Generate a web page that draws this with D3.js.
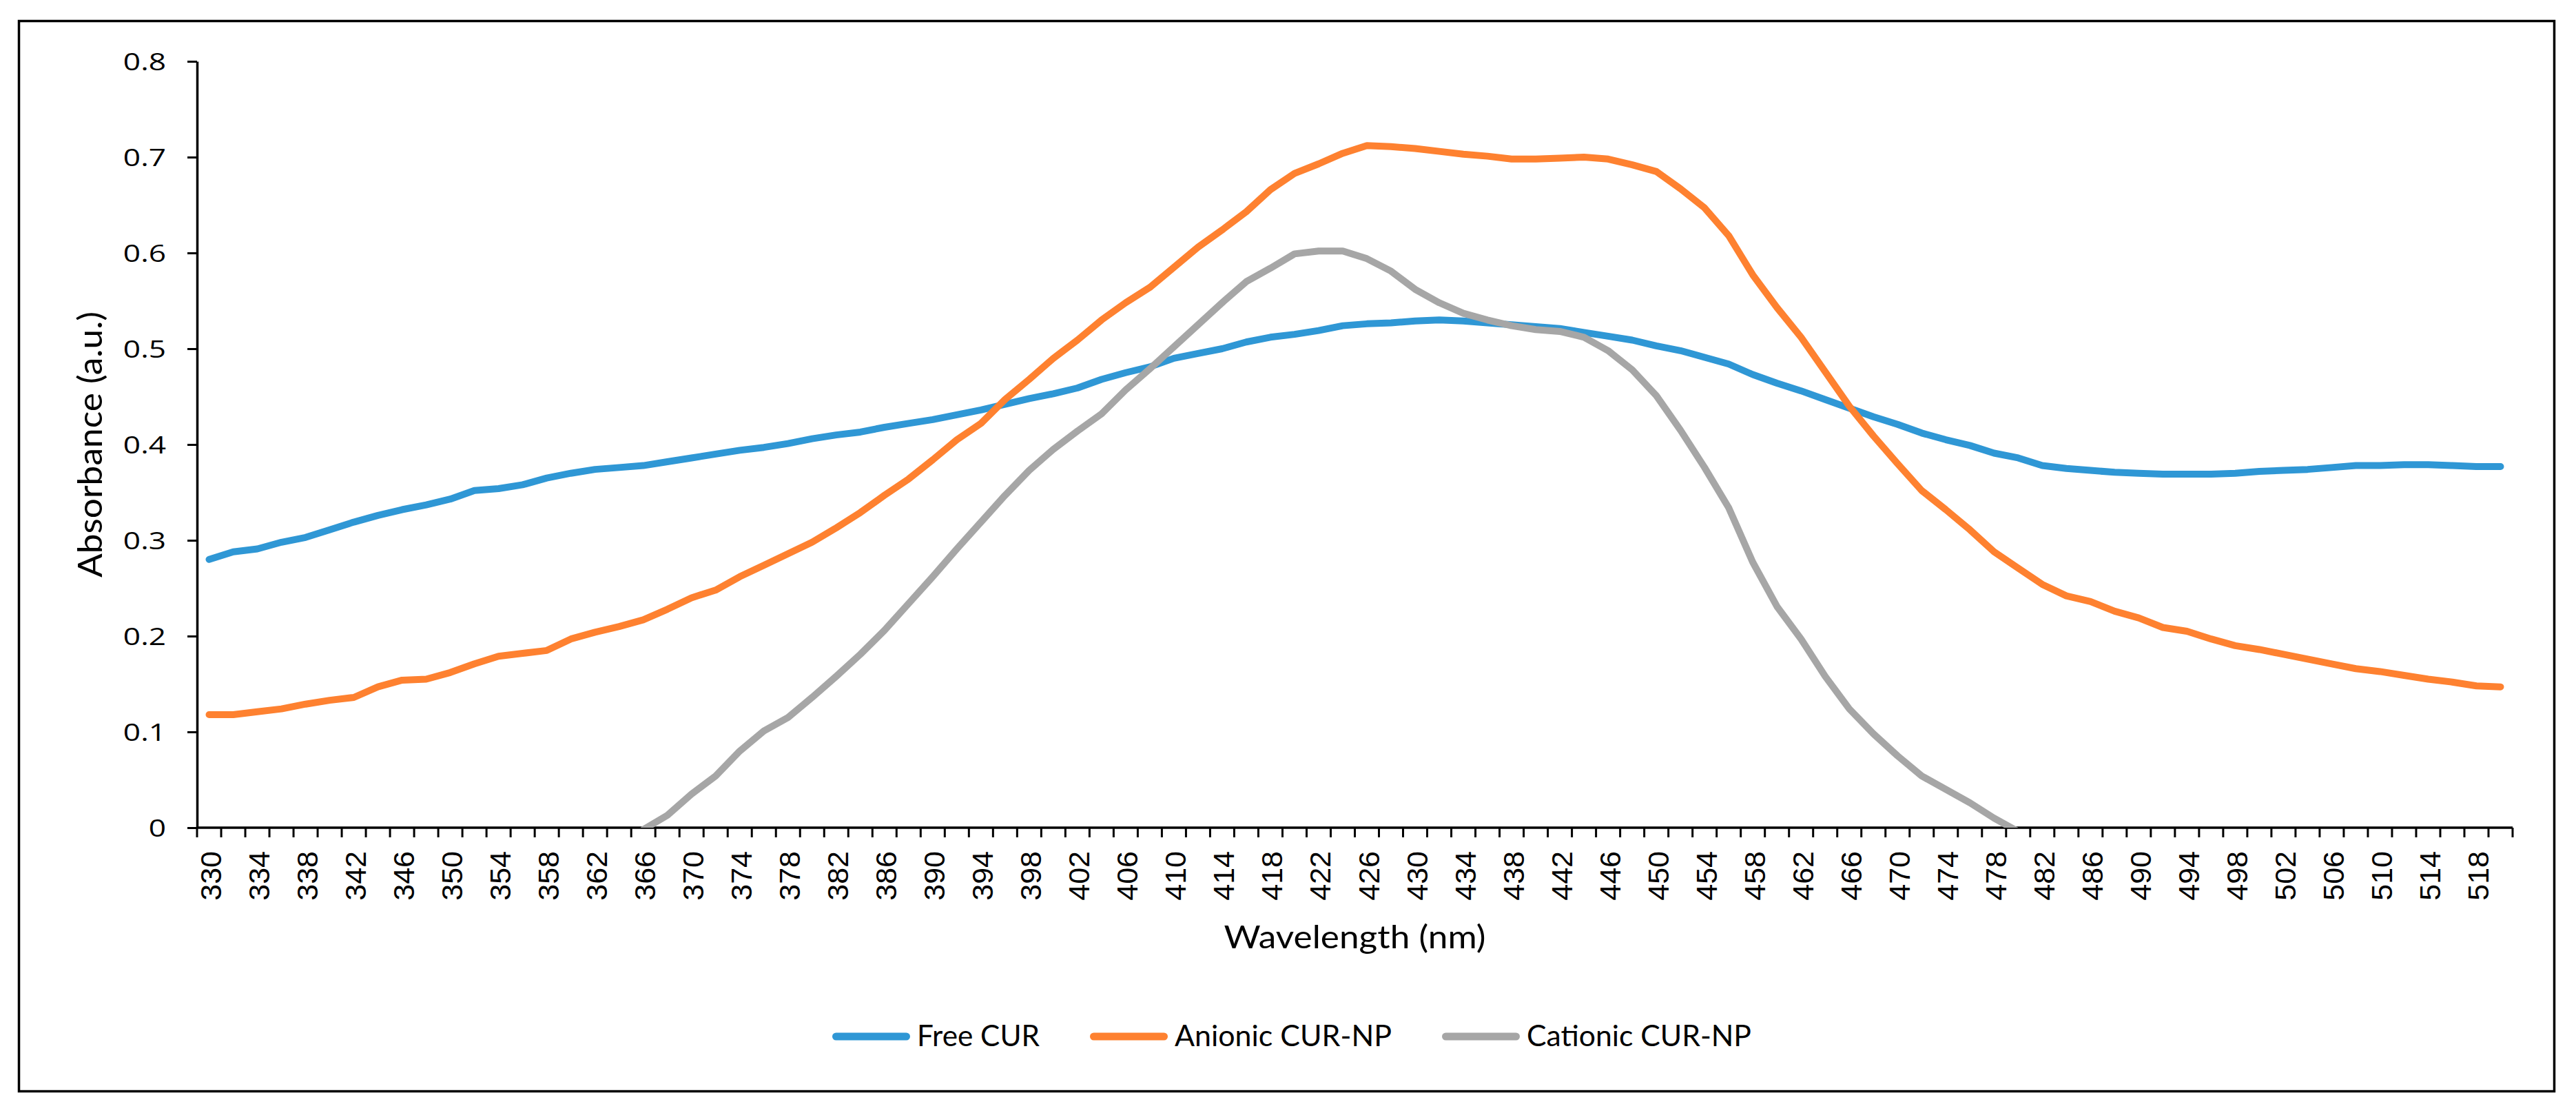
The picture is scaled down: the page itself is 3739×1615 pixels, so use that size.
<!DOCTYPE html>
<html><head><meta charset="utf-8">
<script src="https://cdn.jsdelivr.net/npm/d3@7"></script>
<style>html,body{margin:0;padding:0;background:#fff;} svg{display:block;}</style>
</head><body>
<svg id="chart" width="3739" height="1615"></svg>
<script>
// ---------- DATA ----------
const wavelengths = [330,332,334,336,338,340,342,344,346,348,350,352,354,356,358,360,362,364,366,368,
  370,372,374,376,378,380,382,384,386,388,390,392,394,396,398,400,402,404,406,408,
  410,412,414,416,418,420,422,424,426,428,430,432,434,436,438,440,442,444,446,448,
  450,452,454,456,458,460,462,464,466,468,470,472,474,476,478,480,482,484,486,488,
  490,492,494,496,498,500,502,504,506,508,510,512,514,516,518,520];

const freeCUR = [0.280,0.288,0.291,0.298,0.303,0.311,0.319,0.326,0.332,0.337,
  0.343,0.352,0.354,0.358,0.365,0.370,0.374,0.376,0.378,0.382,
  0.386,0.390,0.394,0.397,0.401,0.406,0.410,0.413,0.418,0.422,
  0.426,0.431,0.436,0.442,0.448,0.453,0.459,0.468,0.475,0.481,
  0.490,0.495,0.500,0.507,0.512,0.515,0.519,0.524,0.526,0.527,
  0.529,0.530,0.529,0.527,0.525,0.523,0.521,0.517,0.513,0.509,
  0.503,0.498,0.491,0.484,0.473,0.464,0.456,0.447,0.438,0.429,
  0.421,0.412,0.405,0.399,0.391,0.386,0.378,0.375,0.373,0.371,
  0.370,0.369,0.369,0.369,0.370,0.372,0.373,0.374,0.376,0.378,
  0.378,0.379,0.379,0.378,0.377,0.377];

const anionicNP = [0.118,0.118,0.121,0.124,0.129,0.133,0.136,0.147,0.154,0.155,
  0.162,0.171,0.179,0.182,0.185,0.197,0.204,0.210,0.217,0.228,
  0.240,0.248,0.262,0.274,0.286,0.298,0.313,0.329,0.347,0.364,
  0.384,0.405,0.422,0.447,0.468,0.490,0.509,0.530,0.548,0.564,
  0.585,0.606,0.624,0.643,0.666,0.683,0.693,0.704,0.712,0.711,
  0.709,0.706,0.703,0.701,0.698,0.698,0.699,0.700,0.698,0.692,
  0.685,0.667,0.647,0.618,0.577,0.543,0.512,0.476,0.440,0.409,
  0.380,0.352,0.332,0.311,0.288,0.271,0.254,0.242,0.236,0.226,
  0.219,0.209,0.205,0.197,0.190,0.186,0.181,0.176,0.171,0.166,
  0.163,0.159,0.155,0.152,0.148,0.147];

const cationicNP = [null,null,null,null,null,null,null,null,null,null,
  null,null,null,null,null,null,null,null,-0.002,0.013,
  0.035,0.054,0.080,0.101,0.115,0.136,0.158,0.181,0.206,0.234,
  0.262,0.291,0.319,0.347,0.373,0.395,0.414,0.432,0.457,0.479,
  0.502,0.525,0.548,0.570,0.584,0.599,0.602,0.602,0.594,0.581,
  0.562,0.548,0.537,0.530,0.524,0.520,0.518,0.512,0.498,0.478,
  0.451,0.415,0.376,0.334,0.277,0.231,0.197,0.158,0.124,0.098,
  0.075,0.054,0.040,0.026,0.010,-0.004,null,null,null,null,
  null,null,null,null,null,null,null,null,null,null,
  null,null,null,null,null,null];

const seriesNames = ["Free CUR", "Anionic CUR-NP", "Cationic CUR-NP"];
const seriesColors = ["#2F97D5", "#FE8130", "#A6A6A6"];
const yTicks = [0, 0.1, 0.2, 0.3, 0.4, 0.5, 0.6, 0.7, 0.8];
const xTickLabels = wavelengths.filter((w, i) => i % 2 === 0);
const yTitle = "Absorbance (a.u.)";
const xTitle = "Wavelength (nm)";

// ---------- LAYOUT ----------
const W = 3739, H = 1615;
const M = {left: 286, right: 3647, top: 89, bottom: 1201};
const svg = d3.select("#chart");
svg.append("rect").attr("width", W).attr("height", H).attr("fill", "#fff");
svg.append("rect").attr("x", 27.5).attr("y", 30.5).attr("width", 3680).attr("height", 1553)
  .attr("fill", "none").attr("stroke", "#000").attr("stroke-width", 3.5);

const x = d3.scaleBand().domain(wavelengths).range([M.left, M.right]).padding(0);
const y = d3.scaleLinear().domain([0, 0.8]).range([M.bottom, M.top]);
const cx = w => x(w) + x.bandwidth() / 2;

svg.append("defs").append("clipPath").attr("id", "plotclip").append("rect")
  .attr("x", M.left).attr("y", M.top - 30).attr("width", M.right - M.left).attr("height", M.bottom - M.top + 30);

// Y axis
const ya = svg.append("g").attr("transform", `translate(${M.left},0)`)
  .call(d3.axisLeft(y).tickValues(yTicks).tickSize(14).tickSizeOuter(0).tickPadding(31)
    .tickFormat(d => d === 0 ? "0" : d3.format(".1f")(d)));
ya.select(".domain").attr("stroke", "#000").attr("stroke-width", 3.5);
ya.selectAll(".tick line").attr("stroke", "#000").attr("stroke-width", 3);
const sx = 1.3;
ya.selectAll(".tick text").attr("font-family", "'Open Sans', sans-serif").attr("font-size", 34)
  .attr("fill", "#000").attr("x", -45 / sx).attr("dy", "0.36em").attr("transform", `scale(${sx},1)`);

// X axis (category, ticks between categories)
const xa = svg.append("g");
xa.append("line").attr("x1", M.left).attr("x2", M.right).attr("y1", M.bottom).attr("y2", M.bottom)
  .attr("stroke", "#000").attr("stroke-width", 3.5);
const bounds = wavelengths.map(w => x(w)).concat([x.range()[1]]);
xa.selectAll("line.xt").data(bounds).join("line").attr("class", "xt")
  .attr("x1", d => d).attr("x2", d => d).attr("y1", M.bottom).attr("y2", M.bottom + 14)
  .attr("stroke", "#000").attr("stroke-width", 3);
xa.selectAll("text.xl").data(xTickLabels).join("text").attr("class", "xl")
  .attr("transform", w => `translate(${cx(w)},${M.bottom + 34}) rotate(-90)`)
  .attr("dy", 17.5).attr("text-anchor", "end")
  .attr("font-family", "'Liberation Sans', Arial, sans-serif").attr("font-size", 43).attr("fill", "#000")
  .text(w => w);

// Lines
const line = d3.line().defined(d => d.v != null).x(d => cx(d.w)).y(d => y(d.v));
const g = svg.append("g").attr("clip-path", "url(#plotclip)");
[freeCUR, anionicNP, cationicNP].forEach((vals, k) => {
  g.append("path").datum(wavelengths.map((w, i) => ({w, v: vals[i]})))
    .attr("d", line).attr("fill", "none").attr("stroke", seriesColors[k])
    .attr("stroke-width", 10).attr("stroke-linejoin", "round").attr("stroke-linecap", "round");
});

// Titles
svg.append("text").attr("transform", "translate(148,645) rotate(-90)").attr("text-anchor", "middle")
  .attr("font-family", "Lato, 'Open Sans', sans-serif").attr("font-size", 49).attr("fill", "#000")
  .attr("textLength", 386).attr("lengthAdjust", "spacingAndGlyphs").text(yTitle);
svg.append("text").attr("x", (M.left + M.right) / 2).attr("y", 1376).attr("text-anchor", "middle")
  .attr("font-family", "Lato, 'Open Sans', sans-serif").attr("font-size", 46).attr("fill", "#000")
  .attr("textLength", 380).attr("lengthAdjust", "spacingAndGlyphs").text(xTitle);

// Legend
const legendTextWidths = [178, 315, 326];
let lx = 1208;
seriesNames.forEach((name, k) => {
  svg.append("line").attr("x1", lx + 5.5).attr("x2", lx + 113 - 5.5).attr("y1", 1504).attr("y2", 1504)
    .attr("stroke", seriesColors[k]).attr("stroke-width", 11).attr("stroke-linecap", "round");
  svg.append("text").attr("x", lx + 123).attr("y", 1518)
    .attr("font-family", "Lato, 'Open Sans', sans-serif").attr("font-size", 42).attr("fill", "#000")
    .attr("textLength", legendTextWidths[k]).attr("lengthAdjust", "spacingAndGlyphs").text(name);
  lx += 123 + legendTextWidths[k] + 73;
});
</script>
</body></html>
